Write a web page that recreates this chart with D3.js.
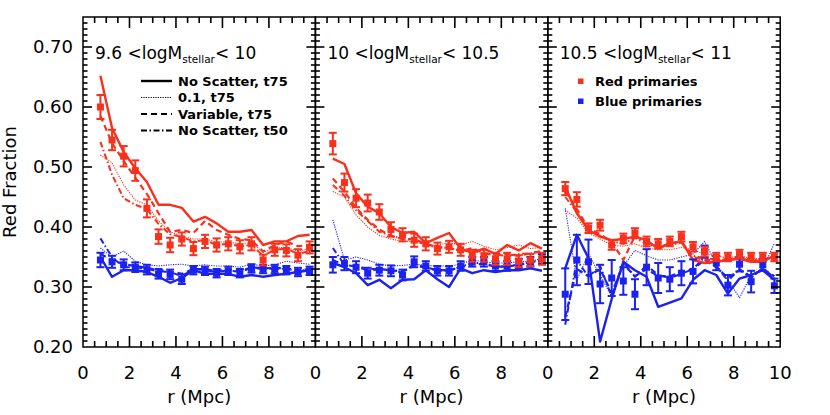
<!DOCTYPE html>
<html><head><meta charset="utf-8">
<script src="https://cdn.jsdelivr.net/npm/d3@7"></script>
<style>body{margin:0;background:#fff}svg{display:block}</style>
</head><body>
<script>
const radius = [0.75,1.25,1.75,2.25,2.75,3.25,3.75,4.25,4.75,5.25,5.75,6.25,6.75,7.25,7.75,8.25,8.75,9.25,9.75];
const panelTitles = [["9.6 <logM","stellar","< 10"],["10 <logM","stellar","< 10.5"],["10.5 <logM","stellar","< 11"]];
const xTickLabels = [[0,2,4,6,8],[0,2,4,6,8],[0,2,4,6,8,10]];
const yTickLabels = [0.20,0.30,0.40,0.50,0.60,0.70];
const legendLines = ["No Scatter, t75","0.1, t75","Variable, t75","No Scatter, t50"];
const legendPoints = ["Red primaries","Blue primaries"];

// Panel 1
const p1Red = [0.600,0.545,0.518,0.494,0.431,0.384,0.370,0.380,0.364,0.376,0.370,0.372,0.367,0.372,0.345,0.362,0.361,0.353,0.366];
const p1RedErr = [0.020,0.017,0.017,0.017,0.015,0.012,0.012,0.011,0.011,0.011,0.011,0.011,0.011,0.011,0.009,0.010,0.010,0.010,0.010];
const p1Blue = [0.345,0.342,0.337,0.333,0.329,0.322,0.321,0.313,0.328,0.327,0.323,0.327,0.323,0.331,0.330,0.330,0.328,0.325,0.327];
const p1BlueErr = [0.012,0.010,0.009,0.008,0.008,0.008,0.008,0.008,0.007,0.007,0.007,0.007,0.007,0.007,0.007,0.007,0.007,0.007,0.007];
const p1RedSolid = [0.652,0.565,0.525,0.498,0.475,0.437,0.437,0.432,0.409,0.417,0.406,0.392,0.392,0.395,0.370,0.376,0.376,0.385,0.387];
const p1RedDotted = [0.520,0.507,0.470,0.445,0.437,0.410,0.392,0.385,0.380,0.380,0.375,0.375,0.372,0.374,0.358,0.365,0.366,0.360,0.364];
const p1RedDashed = [0.585,0.540,0.510,0.482,0.455,0.423,0.392,0.395,0.390,0.410,0.395,0.387,0.380,0.378,0.359,0.370,0.376,0.368,0.370];
const p1RedDashDot = [0.542,0.487,0.448,0.437,0.430,0.405,0.388,0.383,0.376,0.378,0.370,0.372,0.368,0.370,0.352,0.362,0.364,0.355,0.360];
const p1BlueSolid = [0.350,0.317,0.328,0.328,0.325,0.317,0.307,0.315,0.328,0.322,0.322,0.322,0.317,0.320,0.317,0.320,0.322,0.325,0.328];
const p1BlueDotted = [0.365,0.350,0.360,0.343,0.337,0.335,0.337,0.338,0.335,0.337,0.335,0.335,0.333,0.338,0.335,0.337,0.343,0.340,0.338];
const p1BlueDashed = [0.355,0.345,0.338,0.335,0.332,0.328,0.326,0.322,0.330,0.330,0.326,0.330,0.326,0.333,0.331,0.332,0.331,0.328,0.330];
const p1BlueDashDot = [0.381,0.350,0.333,0.333,0.330,0.326,0.325,0.318,0.330,0.328,0.325,0.328,0.325,0.332,0.330,0.331,0.330,0.327,0.329];

// Panel 2
const p2Red = [0.539,0.474,0.448,0.440,0.425,0.396,0.387,0.378,0.372,0.364,0.367,0.362,0.352,0.352,0.347,0.347,0.343,0.345,0.347];
const p2RedErr = [0.018,0.015,0.015,0.014,0.013,0.012,0.011,0.011,0.011,0.010,0.010,0.010,0.010,0.010,0.010,0.010,0.010,0.010,0.010];
const p2Blue = [0.337,0.339,0.333,0.323,0.328,0.327,0.320,0.342,0.335,0.327,0.327,0.335,0.342,0.342,0.335,0.335,0.339,0.342,0.347];
const p2BlueErr = [0.013,0.011,0.010,0.009,0.009,0.009,0.009,0.009,0.008,0.008,0.008,0.008,0.008,0.008,0.008,0.008,0.008,0.008,0.008];
const p2RedSolid = [0.514,0.505,0.456,0.434,0.423,0.400,0.390,0.392,0.373,0.382,0.390,0.364,0.357,0.364,0.355,0.370,0.361,0.373,0.364];
const p2RedDotted = [0.459,0.450,0.420,0.400,0.386,0.380,0.376,0.376,0.370,0.370,0.374,0.370,0.376,0.368,0.362,0.366,0.370,0.364,0.366];
const p2RedDashed = [0.481,0.459,0.432,0.412,0.396,0.385,0.380,0.380,0.372,0.366,0.366,0.360,0.365,0.356,0.355,0.355,0.352,0.356,0.360];
const p2RedDashDot = [0.470,0.452,0.428,0.410,0.392,0.386,0.380,0.378,0.370,0.366,0.365,0.360,0.362,0.355,0.354,0.352,0.355,0.356,0.360];
const p2BlueSolid = [0.340,0.333,0.323,0.303,0.312,0.298,0.312,0.313,0.328,0.313,0.300,0.331,0.323,0.328,0.325,0.328,0.328,0.331,0.327];
const p2BlueDotted = [0.412,0.345,0.350,0.345,0.338,0.335,0.336,0.338,0.336,0.335,0.335,0.338,0.345,0.342,0.340,0.340,0.342,0.343,0.347];
const p2BlueDashed = [0.345,0.336,0.335,0.330,0.330,0.328,0.326,0.335,0.333,0.328,0.328,0.333,0.338,0.338,0.334,0.334,0.337,0.340,0.344];
const p2BlueDashDot = [0.365,0.337,0.334,0.328,0.329,0.328,0.324,0.338,0.333,0.327,0.327,0.334,0.340,0.340,0.334,0.334,0.338,0.341,0.345];

// Panel 3
const p3Red = [0.464,0.446,0.398,0.403,0.370,0.381,0.390,0.376,0.372,0.376,0.384,0.367,0.359,0.350,0.350,0.355,0.350,0.350,0.350];
const p3RedErr = [0.011,0.012,0.008,0.009,0.008,0.008,0.008,0.008,0.008,0.008,0.008,0.008,0.008,0.007,0.007,0.007,0.007,0.007,0.007];
const p3Blue = [0.288,0.345,0.342,0.305,0.315,0.310,0.288,0.333,0.315,0.313,0.323,0.326,0.359,0.340,0.303,0.338,0.309,0.337,0.302];
const p3BlueErr = [0.043,0.042,0.037,0.032,0.030,0.023,0.025,0.030,0.025,0.020,0.020,0.020,0.010,0.012,0.017,0.012,0.018,0.010,0.012];
const p3RedSolid = [0.467,0.423,0.395,0.384,0.378,0.380,0.384,0.378,0.364,0.373,0.376,0.345,0.340,0.342,0.345,0.347,0.342,0.342,0.353];
const p3RedDotted = [0.428,0.415,0.390,0.380,0.370,0.368,0.372,0.365,0.362,0.362,0.366,0.362,0.355,0.352,0.348,0.352,0.348,0.346,0.350];
const p3RedDashed = [0.460,0.430,0.398,0.388,0.375,0.345,0.385,0.375,0.366,0.372,0.376,0.350,0.345,0.345,0.346,0.348,0.344,0.344,0.352];
const p3RedDashDot = [0.450,0.425,0.395,0.385,0.376,0.372,0.382,0.372,0.366,0.370,0.374,0.352,0.348,0.346,0.346,0.350,0.345,0.346,0.352];
const p3BlueSolid = [0.331,0.387,0.348,0.209,0.280,0.342,0.328,0.317,0.267,0.274,0.281,0.312,0.328,0.320,0.289,0.314,0.320,0.328,0.312];
const p3BlueDotted = [0.431,0.312,0.355,0.320,0.284,0.335,0.361,0.352,0.345,0.345,0.350,0.355,0.376,0.338,0.312,0.282,0.320,0.330,0.373];
const p3BlueDashed = [0.250,0.330,0.318,0.330,0.290,0.338,0.318,0.330,0.318,0.318,0.325,0.330,0.345,0.333,0.315,0.328,0.318,0.330,0.318];
const p3BlueDashDot = [0.237,0.345,0.317,0.335,0.284,0.342,0.317,0.336,0.320,0.315,0.322,0.330,0.350,0.335,0.310,0.330,0.315,0.332,0.315];

const panels = [
  {red:p1Red, redErr:p1RedErr, blue:p1Blue, blueErr:p1BlueErr,
   lines:{red:[p1RedSolid,p1RedDotted,p1RedDashed,p1RedDashDot], blue:[p1BlueSolid,p1BlueDotted,p1BlueDashed,p1BlueDashDot]}},
  {red:p2Red, redErr:p2RedErr, blue:p2Blue, blueErr:p2BlueErr,
   lines:{red:[p2RedSolid,p2RedDotted,p2RedDashed,p2RedDashDot], blue:[p2BlueSolid,p2BlueDotted,p2BlueDashed,p2BlueDashDot]}},
  {red:p3Red, redErr:p3RedErr, blue:p3Blue, blueErr:p3BlueErr,
   lines:{red:[p3RedSolid,p3RedDotted,p3RedDashed,p3RedDashDot], blue:[p3BlueSolid,p3BlueDotted,p3BlueDashed,p3BlueDashDot]}}
];

const RED = "#f8301c", BLUE = "#1c22ee";
const styles = [
  {w:2.4, dash:null},
  {w:1.1, dash:"1.2,1.2"},
  {w:2.2, dash:"6,4"},
  {w:2.0, dash:"6,2.5,1.5,2.5"}
];

(function(){
const W = 830, H = 415;
const plotLeft = 83, pw = 232.4, plotTop = 17, plotBottom = 347;
const font = "'DejaVu Sans', sans-serif";

const svg = d3.select("body").append("svg").attr("width", W).attr("height", H);
const y = d3.scaleLinear().domain([0.2, 0.75]).range([plotBottom, plotTop]);

const yMinor = d3.range(21, 75).map(d => d / 100).filter(v => Math.round(v * 100) % 10 !== 0);
const yMajor = yTickLabels;
const xMinor = d3.range(1, 20).map(d => d / 2).filter(v => v % 2 !== 0);
const xMajor = [2, 4, 6, 8];

const dataLayer = svg.append("g");
const axisLayer = svg.append("g");

panels.forEach((p, i) => {
  const x = d3.scaleLinear().domain([0, 10]).range([plotLeft + i * pw, plotLeft + (i + 1) * pw]);
  const x0 = x(0), x1 = x(10);
  const dg = dataLayer.append("g");

  const line = d3.line().x((d, k) => x(radius[k])).y(d => y(d));
  ["blue", "red"].forEach(c => {
    p.lines[c].forEach((arr, s) => {
      dg.append("path").attr("d", line(arr)).attr("fill", "none")
        .attr("stroke", c === "red" ? RED : BLUE)
        .attr("stroke-width", styles[s].w)
        .attr("stroke-dasharray", styles[s].dash)
        .attr("stroke-linejoin", "round");
    });
  });

  [["blue", p.blue, p.blueErr, BLUE], ["red", p.red, p.redErr, RED]].forEach(([c, vals, errs, col]) => {
    const pg = dg.append("g").attr("stroke", col).attr("fill", col);
    vals.forEach((v, k) => {
      const cx = x(radius[k]);
      const eTop = y(v + errs[k]), eBot = y(v - errs[k]);
      pg.append("line").attr("x1", cx).attr("x2", cx).attr("y1", eTop).attr("y2", eBot).attr("stroke-width", 2);
      pg.append("line").attr("x1", cx - 4).attr("x2", cx + 4).attr("y1", eTop).attr("y2", eTop).attr("stroke-width", 2);
      pg.append("line").attr("x1", cx - 4).attr("x2", cx + 4).attr("y1", eBot).attr("y2", eBot).attr("stroke-width", 2);
      pg.append("rect").attr("x", cx - 3.5).attr("y", y(v) - 3.5).attr("width", 7).attr("height", 7).attr("stroke", "none");
    });
  });

  // ticks (inward), drawn from the scales
  const tg = axisLayer.append("g").attr("stroke", "#000").attr("stroke-width", 1.6);
  const xt = [...xMajor.map(v => [v, 11]), ...xMinor.map(v => [v, 6])];
  xt.forEach(([v, len]) => {
    tg.append("line").attr("x1", x(v)).attr("x2", x(v)).attr("y1", plotBottom).attr("y2", plotBottom - len);
    tg.append("line").attr("x1", x(v)).attr("x2", x(v)).attr("y1", plotTop).attr("y2", plotTop + len);
  });
  const ytk = [...yMajor.filter(v => v > 0.2).map(v => [v, 9]), ...yMinor.map(v => [v, 4.5])];
  ytk.forEach(([v, len]) => {
    tg.append("line").attr("x1", x0).attr("x2", x0 + len).attr("y1", y(v)).attr("y2", y(v));
    tg.append("line").attr("x1", x1).attr("x2", x1 - len).attr("y1", y(v)).attr("y2", y(v));
  });
  axisLayer.append("rect").attr("x", x0).attr("y", plotTop).attr("width", x1 - x0).attr("height", plotBottom - plotTop)
    .attr("fill", "none").attr("stroke", "#000").attr("stroke-width", 1.5);

  const lab = axisLayer.append("g").attr("font-family", font).attr("font-size", 18).attr("fill", "#000");
  xTickLabels[i].forEach(v => {
    lab.append("text").attr("x", x(v)).attr("y", 379).attr("text-anchor", "middle").text(v);
  });
  if (i === 0) {
    yTickLabels.forEach(v => {
      lab.append("text").attr("x", 73).attr("y", y(v)).attr("dy", "0.35em").attr("text-anchor", "end").text(v.toFixed(2));
    });
  }

  const t = panelTitles[i];
  const tt = axisLayer.append("text").attr("x", x0 + 12).attr("y", 59).attr("font-family", font).attr("font-size", 17);
  tt.append("tspan").text(t[0]);
  tt.append("tspan").attr("font-size", 10.5).attr("dy", 4).text(t[1]);
  tt.append("tspan").attr("dy", -4).text(t[2]);

  axisLayer.append("text").attr("x", (x0 + x1) / 2).attr("y", 403).attr("text-anchor", "middle")
    .attr("font-family", font).attr("font-size", 18).text("r (Mpc)");
});

axisLayer.append("text").attr("transform", "translate(16,182) rotate(-90)").attr("text-anchor", "middle")
  .attr("font-family", font).attr("font-size", 18).text("Red Fraction");

const lg = axisLayer.append("g");
legendLines.forEach((lab, k) => {
  const yy = 81 + k * 16.5;
  lg.append("line").attr("x1", 141).attr("x2", 172).attr("y1", yy).attr("y2", yy)
    .attr("stroke", "#000").attr("stroke-width", styles[k].w).attr("stroke-dasharray", styles[k].dash);
  lg.append("text").attr("x", 178).attr("y", yy).attr("dy", "0.36em").attr("font-family", font)
    .attr("font-weight", "bold").attr("font-size", 13).text(lab);
});
legendPoints.forEach((lab, k) => {
  const yy = 81 + k * 20;
  lg.append("rect").attr("x", 578).attr("y", yy - 2.5).attr("width", 5.5).attr("height", 5.5).attr("fill", k === 0 ? RED : BLUE);
  lg.append("text").attr("x", 595).attr("y", yy).attr("dy", "0.36em").attr("font-family", font)
    .attr("font-weight", "bold").attr("font-size", 13).text(lab);
});
})();
</script>
</body></html>
